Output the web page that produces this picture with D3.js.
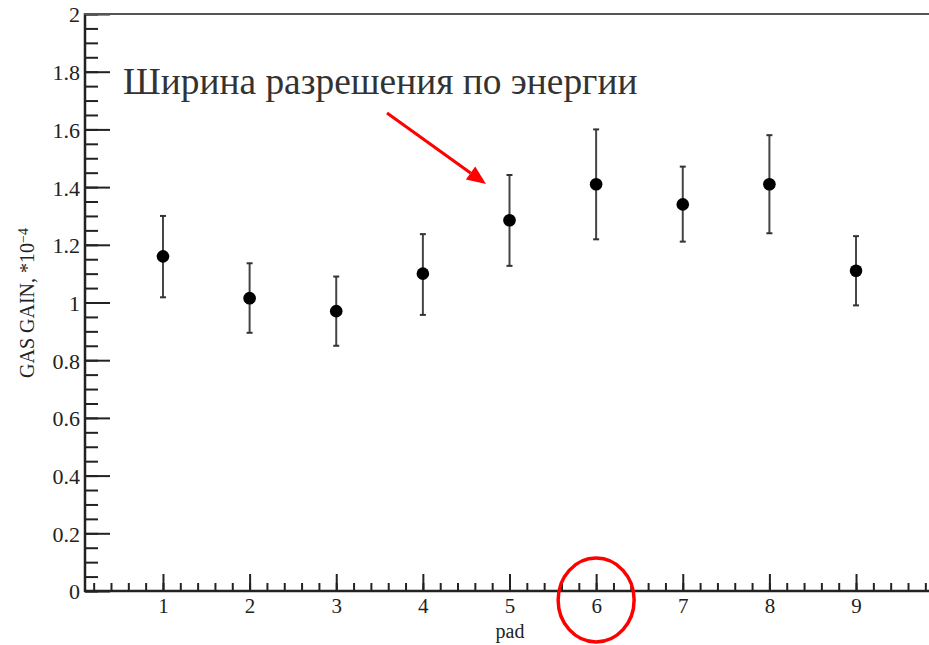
<!DOCTYPE html>
<html>
<head>
<meta charset="utf-8">
<script src="https://cdn.jsdelivr.net/npm/d3@7"></script>
<style>
  body { margin: 0; background: #fff; }
</style>
</head>
<body>
<svg id="chart" width="929" height="645" font-family="'Liberation Serif', serif"></svg>
<script>
// pads and measured gas gain (x 10^-4), with error bar ends
var pads = [1, 2, 3, 4, 5, 6, 7, 8, 9];
var gain = [1.16, 1.015, 0.97, 1.10, 1.285, 1.41, 1.34, 1.41, 1.11];
var gainHi = [1.30, 1.136, 1.09, 1.237, 1.442, 1.60, 1.471, 1.58, 1.23];
var gainLo = [1.018, 0.895, 0.85, 0.957, 1.127, 1.219, 1.211, 1.24, 0.99];

var yTicks = [0, 0.2, 0.4, 0.6, 0.8, 1, 1.2, 1.4, 1.6, 1.8, 2];
var xTicks = [1, 2, 3, 4, 5, 6, 7, 8, 9];

var serif = "'Liberation Serif', serif";
var svg = d3.select("#chart");

var x = d3.scaleLinear().domain([0.1, 9.9]).range([85, 934]);
var y = d3.scaleLinear().domain([0, 2]).range([591, 14]);

var axisColor = "#222";

// minor ticks first
var yMinor = d3.range(0, 2.0001, 0.05);
svg.append("g")
    .attr("transform", "translate(85,0)")
    .call(d3.axisLeft(y).tickValues(yMinor).tickSize(-13).tickFormat(""))
    .call(g => g.select(".domain").remove())
    .call(g => g.selectAll("line").attr("stroke", axisColor).attr("stroke-width", 2));

var xMinor = d3.range(0.2, 9.9, 0.2);
svg.append("g")
    .attr("transform", "translate(0,591)")
    .call(d3.axisBottom(x).tickValues(xMinor).tickSize(-8).tickFormat(""))
    .call(g => g.select(".domain").remove())
    .call(g => g.selectAll("line").attr("stroke", axisColor).attr("stroke-width", 2));

// major y axis
svg.append("g")
    .attr("transform", "translate(85,0)")
    .call(d3.axisLeft(y).tickValues(yTicks).tickSize(-25).tickPadding(5)
      .tickFormat(d3.format("~g")))
    .attr("font-family", serif)
    .attr("font-size", 22)
    .call(g => g.select(".domain").remove())
    .call(g => g.selectAll("line").attr("stroke", axisColor).attr("stroke-width", 2))
    .call(g => g.selectAll("text")
      .attr("x", -5)
      .attr("dy", "0.36em")
      .attr("fill", "#222")
      .attr("font-family", serif)
      .attr("font-size", 22));

// major x axis
svg.append("g")
    .attr("transform", "translate(0,591)")
    .call(d3.axisBottom(x).tickValues(xTicks).tickSize(-17).tickFormat(d3.format("d")))
    .attr("font-family", serif)
    .attr("font-size", 21)
    .call(g => g.select(".domain").remove())
    .call(g => g.selectAll("line").attr("stroke", axisColor).attr("stroke-width", 2))
    .call(g => g.selectAll("text")
      .attr("y", 22)
      .attr("dy", null)
      .attr("fill", "#222")
      .attr("font-family", serif)
      .attr("font-size", 21));

// frame lines
svg.append("line")
    .attr("x1", 85).attr("x2", 85).attr("y1", 13).attr("y2", 592)
    .attr("stroke", axisColor).attr("stroke-width", 2.5);
svg.append("line")
    .attr("x1", 84).attr("x2", 929).attr("y1", 591).attr("y2", 591)
    .attr("stroke", axisColor).attr("stroke-width", 2.5);
svg.append("line")
    .attr("x1", 84).attr("x2", 929).attr("y1", 14).attr("y2", 14)
    .attr("stroke", "#555").attr("stroke-width", 2);

// axis titles
svg.append("text")
    .attr("x", 510).attr("y", 638)
    .attr("text-anchor", "middle")
    .attr("fill", "#222")
    .attr("font-family", serif)
    .attr("font-size", 20)
    .text("pad");

var ylab = svg.append("text")
    .attr("transform", "translate(34,303) rotate(-90)")
    .attr("text-anchor", "middle")
    .attr("fill", "#222")
    .attr("font-family", serif)
    .attr("font-size", 20);
ylab.append("tspan").text("GAS GAIN, *10");
ylab.append("tspan").attr("dy", "-0.45em").attr("font-size", 14).text("\u22124");

// error bars and points
var data = pads.map(function(p, i) {
  return {pad: p, v: gain[i], hi: gainHi[i], lo: gainLo[i]};
});

var pts = svg.append("g").attr("class", "points");
pts.selectAll("line.bar")
  .data(data).enter().append("line")
    .attr("class", "bar")
    .attr("x1", d => x(d.pad)).attr("x2", d => x(d.pad))
    .attr("y1", d => y(d.hi)).attr("y2", d => y(d.lo))
    .attr("stroke", "#444").attr("stroke-width", 2);
pts.selectAll("line.capHi")
  .data(data).enter().append("line")
    .attr("class", "capHi")
    .attr("x1", d => x(d.pad) - 3).attr("x2", d => x(d.pad) + 3)
    .attr("y1", d => y(d.hi)).attr("y2", d => y(d.hi))
    .attr("stroke", "#333").attr("stroke-width", 2);
pts.selectAll("line.capLo")
  .data(data).enter().append("line")
    .attr("class", "capLo")
    .attr("x1", d => x(d.pad) - 3).attr("x2", d => x(d.pad) + 3)
    .attr("y1", d => y(d.lo)).attr("y2", d => y(d.lo))
    .attr("stroke", "#333").attr("stroke-width", 2);
pts.selectAll("circle")
  .data(data).enter().append("circle")
    .attr("cx", d => x(d.pad)).attr("cy", d => y(d.v))
    .attr("r", 6.3)
    .attr("fill", "#000");

// annotation
svg.append("text")
    .attr("x", 123).attr("y", 94)
    .attr("fill", "#333")
    .attr("font-family", serif)
    .attr("font-size", 37.4)
    .text("Ширина разрешения по энергии");

// red arrow
var a0 = [387, 113], a1 = [486, 184];
var dx = a1[0] - a0[0], dy = a1[1] - a0[1], len = Math.sqrt(dx * dx + dy * dy);
var ux = dx / len, uy = dy / len;
var headL = 19, headW = 8;
var bx = a1[0] - ux * headL, by = a1[1] - uy * headL;
svg.append("line")
    .attr("x1", a0[0]).attr("y1", a0[1]).attr("x2", bx).attr("y2", by)
    .attr("stroke", "#f00").attr("stroke-width", 3);
svg.append("path")
    .attr("d", d3.line()([a1, [bx - uy * headW, by + ux * headW], [bx + uy * headW, by - ux * headW]]) + "Z")
    .attr("fill", "#f00");

// red circle around pad 6
svg.append("ellipse")
    .attr("cx", x(6)).attr("cy", 600)
    .attr("rx", 38).attr("ry", 42)
    .attr("fill", "none")
    .attr("stroke", "#f00").attr("stroke-width", 3.5);
</script>
</body>
</html>
